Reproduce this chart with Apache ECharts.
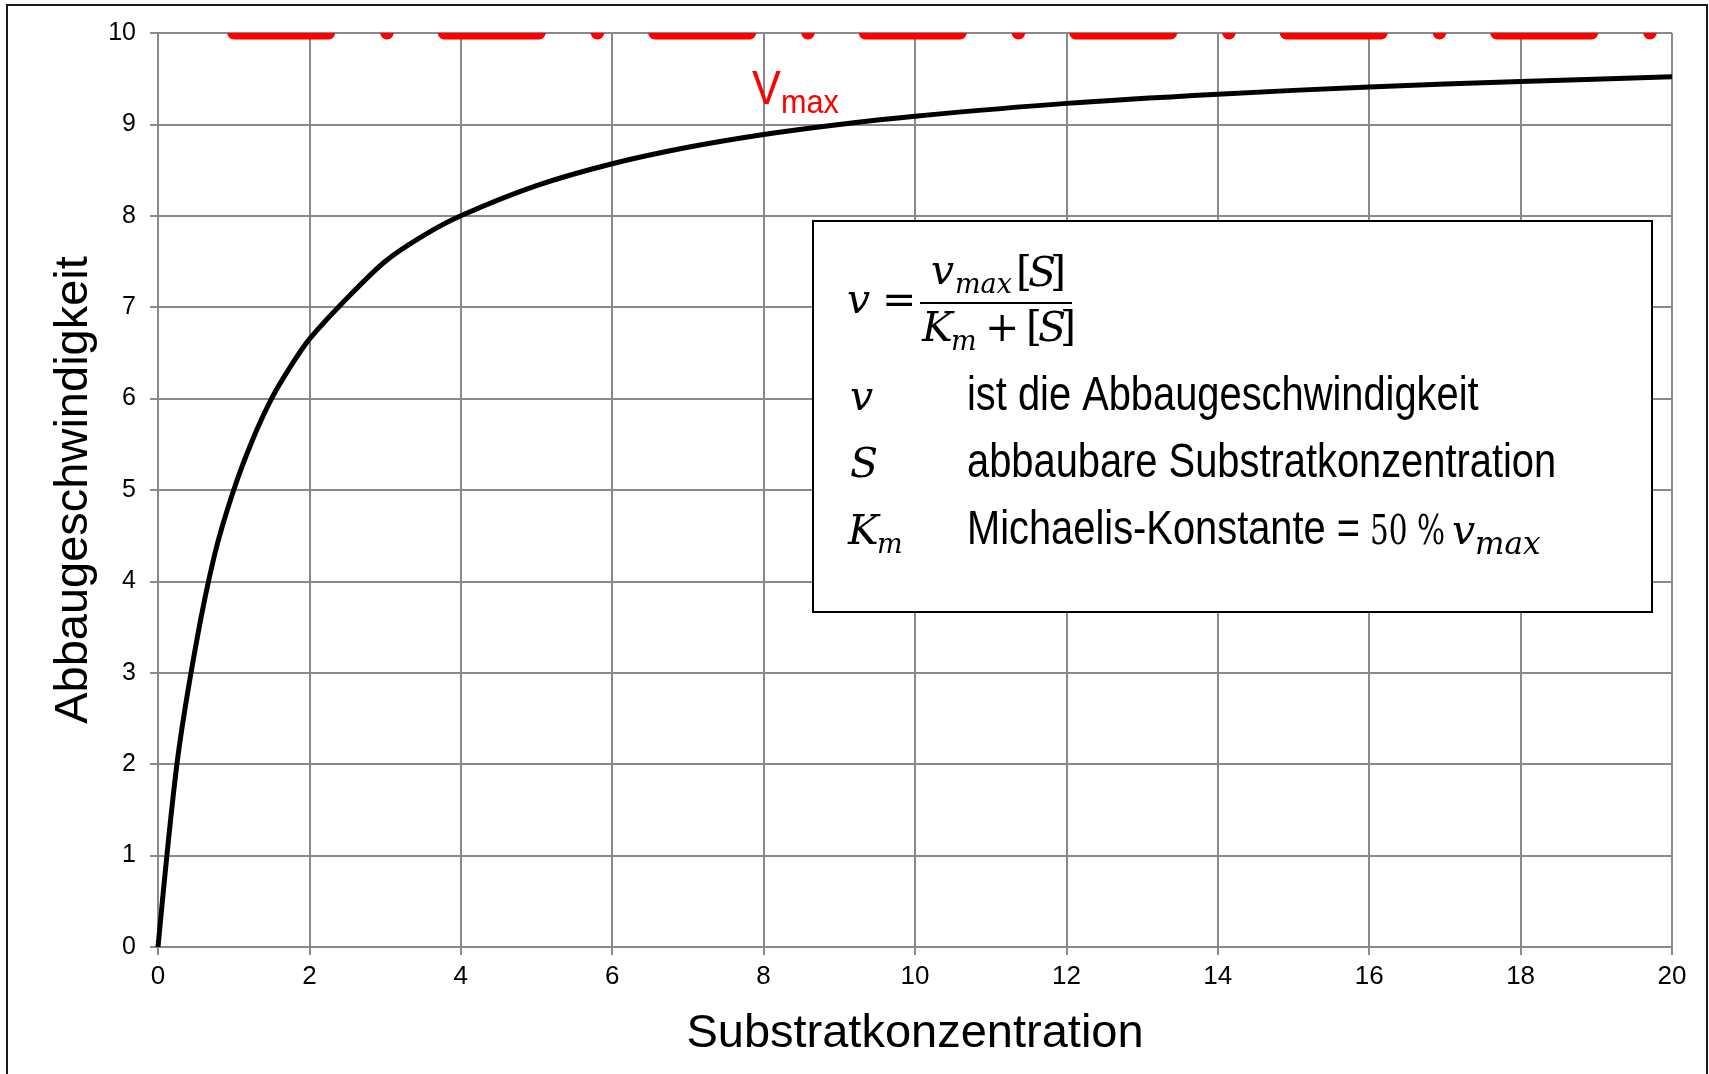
<!DOCTYPE html>
<html><head><meta charset="utf-8">
<script src="https://cdn.jsdelivr.net/npm/echarts@6/dist/echarts.min.js"></script>
<style>html,body{margin:0;padding:0;background:#fff}#c{width:1709px;height:1074px}</style>
</head><body><div id="c"></div>
<script>
// ---- data ----
const substrate = [0, 0.25, 0.5, 0.75, 1, 1.25, 1.5, 1.75, 2, 2.5, 3, 3.5, 4, 5, 6, 7, 8, 9, 10, 12, 14, 16, 18, 20];
const rate      = [0, 2.0, 3.3, 4.3, 5.0, 5.55, 6.0, 6.35, 6.65, 7.1, 7.5, 7.78, 8.0, 8.33, 8.57, 8.75, 8.89, 9.0, 9.09, 9.23, 9.33, 9.41, 9.47, 9.52];
const vmaxFrom = 1, vmaxTo = 20, vmaxLevel = 10;
const xTicks = [0, 2, 4, 6, 8, 10, 12, 14, 16, 18, 20];
const yTicks = [0, 1, 2, 3, 4, 5, 6, 7, 8, 9, 10];

const SANS = '"Liberation Sans", Arial, sans-serif';
const MATH = '"DejaVu Serif", serif';
const GRID = '#8a8a8a';

function T(x, base, text, size, family, italic, color, sx) {
  return {type: 'text', x: x, y: base - 0.34 * size, z: 20, scaleX: sx || 1,
    style: {text: text, font: (italic ? 'italic ' : '') + size + 'px ' + family,
      fill: color || '#000', align: 'left', verticalAlign: 'middle'}};
}

const chart = echarts.init(document.getElementById('c'), null, {renderer: 'canvas'});
chart.setOption({
  backgroundColor: '#fff',
  animation: false,
  grid: {left: 158, top: 33, right: 37, bottom: 127, outerBoundsMode: 'none', containLabel: false},
  xAxis: {
    type: 'value', min: xTicks[0], max: xTicks[xTicks.length - 1], interval: xTicks[1] - xTicks[0],
    name: 'Substratkonzentration', nameLocation: 'middle', nameGap: 64,
    nameTextStyle: {fontFamily: SANS, fontSize: 47, color: '#000'},
    axisLine: {show: true, onZero: false, lineStyle: {color: GRID, width: 2}},
    axisTick: {show: true, inside: false, length: 8, lineStyle: {color: GRID, width: 2}},
    axisLabel: {show: true, margin: 17, fontFamily: SANS, fontSize: 26, color: '#000',
      formatter: v => String(v)},
    splitLine: {show: true, showMinLine: true, showMaxLine: true, lineStyle: {color: GRID, width: 2}}
  },
  yAxis: {
    type: 'value', min: yTicks[0], max: yTicks[yTicks.length - 1], interval: yTicks[1] - yTicks[0],
    name: 'Abbaugeschwindigkeit', nameLocation: 'middle', nameGap: 58,
    nameTextStyle: {fontFamily: SANS, fontSize: 47, color: '#000'},
    axisLine: {show: true, onZero: false, lineStyle: {color: GRID, width: 2}},
    axisTick: {show: true, inside: false, length: 8, lineStyle: {color: GRID, width: 2}},
    axisLabel: {show: true, margin: 22, fontFamily: SANS, fontSize: 25, color: '#000'},
    splitLine: {show: true, showMinLine: true, showMaxLine: true, lineStyle: {color: GRID, width: 2}}
  },
  series: [
    {
      type: 'custom', clip: true, z: 3,
      data: [[vmaxFrom, vmaxTo, vmaxLevel]],
      encode: {x: [0, 1], y: 2},
      renderItem: function (params, api) {
        const p0 = api.coord([api.value(0), api.value(2)]);
        const p1 = api.coord([api.value(1), api.value(2)]);
        return {type: 'line', shape: {x1: p0[0], y1: p0[1], x2: p1[0], y2: p1[1]},
          style: {stroke: '#ff0000', lineWidth: 13, lineCap: 'round', lineDash: [95, 58, 0.5, 57], fill: null}};
      }
    },
    {
      type: 'line', z: 4, smooth: 0.3, symbol: 'none', clip: false,
      data: substrate.map((s, i) => [s, rate[i]]),
      lineStyle: {color: '#000', width: 5}
    }
  ],
  graphic: [
    {type: 'rect', z: 1, shape: {x: 7, y: 5, width: 1700, height: 1100},
      style: {fill: 'none', stroke: '#1a1a1a', lineWidth: 2}},
    {type: 'rect', z: 15, shape: {x: 813, y: 221, width: 839, height: 391},
      style: {fill: '#fff', stroke: '#000', lineWidth: 2}},
    // formula
    T(847, 316, 'v', 41, MATH, true),
    T(882, 316, '=', 41, MATH, false),
    {type: 'line', z: 20, shape: {x1: 920, y1: 303, x2: 1072, y2: 303}, style: {stroke: '#000', lineWidth: 2}},
    T(931, 287, 'v', 41, MATH, true),
    T(955, 295, 'max', 27, MATH, true),
    T(1016, 289, '[', 41, MATH, false),
    T(1028, 289, 'S', 41, MATH, true),
    T(1050, 289, ']', 41, MATH, false),
    T(922, 344, 'K', 41, MATH, true),
    T(951, 352, 'm', 27, MATH, true),
    T(985, 344, '+', 41, MATH, false),
    T(1026, 344, '[', 41, MATH, false),
    T(1038, 344, 'S', 41, MATH, true),
    T(1060, 344, ']', 41, MATH, false),
    // rows
    T(850, 413, 'v', 41, MATH, true),
    T(967, 413, 'ist die Abbaugeschwindigkeit', 48, SANS, false, '#000', 0.83),
    T(850, 480, 'S', 41, MATH, true),
    T(967, 480, 'abbaubare Substratkonzentration', 48, SANS, false, '#000', 0.83),
    T(848, 547, 'K', 41, MATH, true),
    T(877, 555, 'm', 27, MATH, true),
    T(967, 547, 'Michaelis-Konstante =', 48, SANS, false, '#000', 0.83),
    T(1370, 547, '50 %', 41, MATH, false, '#000', 0.72),
    T(1452, 547, 'v', 41, MATH, true),
    T(1475, 556, 'max', 31, MATH, true),
    // Vmax label
    T(752, 107, 'V', 48, SANS, false, '#ff0000', 0.9),
    T(781, 115, 'max', 34, SANS, false, '#ff0000', 0.9)
  ]
});
</script></body></html>
